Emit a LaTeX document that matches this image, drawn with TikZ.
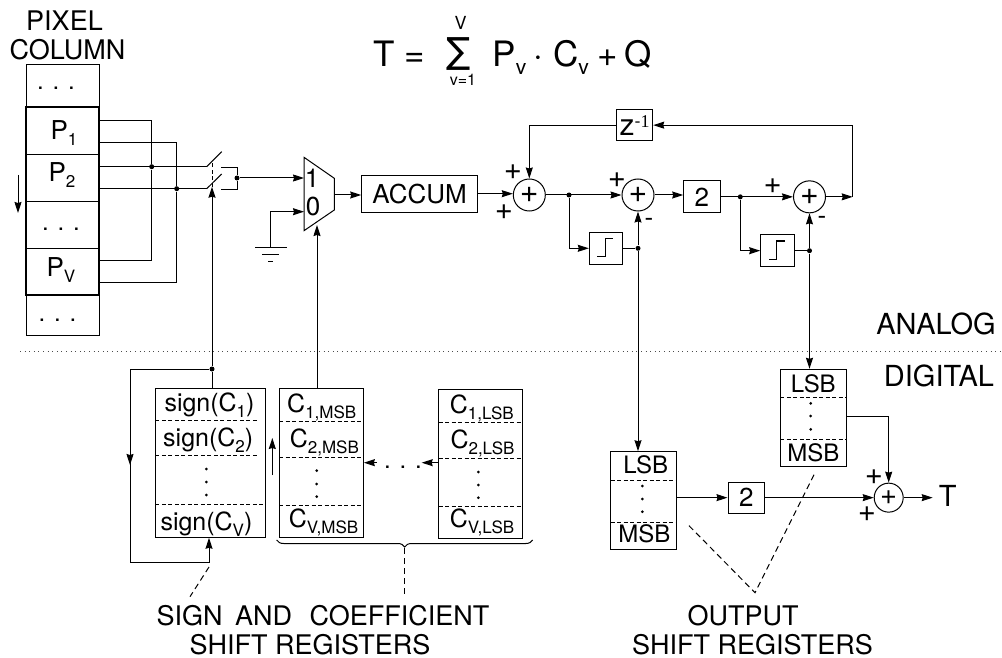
\documentclass[tikz,border=0pt]{standalone}
\usepackage{fontspec}
\setmainfont{TeX Gyre Heros}
\newfontfamily\serifdigit{Liberation Serif}
\newfontfamily\sumfont{DejaVu Sans}
\usetikzlibrary{arrows.meta}
\usetikzlibrary{decorations.pathreplacing}
\newcommand{\fs}[1]{\fontsize{#1}{#1}\selectfont}
\newcommand{\subs}[1]{\raisebox{-6pt}{\fs{17}#1}}

\begin{document}
\begin{tikzpicture}[x=1pt,y=-1pt,line width=1pt]

% used shapes
\tikzstyle{block} = [rectangle, draw, inner sep=0pt, font=\fs{26}]
\tikzstyle{sumnode} = [circle, draw, inner sep=0pt, minimum size=32pt, font=\fs{32}]
\tikzstyle{dot} = [circle, fill, inner sep=0pt, minimum size=5pt]
\tikzstyle{wire} = [-{Stealth[length=11pt,width=7pt,inset=1pt]}]
\tikzstyle{txt} = [anchor=base, inner sep=0pt, font=\fs{27}]
\tikzstyle{reg} = [anchor=base west, inner sep=0pt, font=\fs{25}]
\tikzstyle{bit} = [anchor=base, inner sep=0pt, font=\fs{24}]
\tikzstyle{sgn} = [anchor=center, inner sep=0pt, font=\fs{31}]
\tikzstyle{sep} = [dash pattern=on 4pt off 2.5pt]
\tikzstyle{note} = [dash pattern=on 6pt off 4pt]

\useasboundingbox (0,0) rectangle (1002,658);

% formula
\node [txt, anchor=base west, font=\fs{35}] (ftee) at (373,66.7) {T\hspace{10pt}=};
\node [txt, font=\fs{36}] (fsum) at (458.5,64) {\sumfont ∑};
\node [txt, font=\fs{18}] (ftop) at (460.7,29.5) {V};
\node [txt, font=\fs{16}] (fbot) at (463,86) {v=1};
\node [txt, anchor=base west, font=\fs{35}] (fpee) at (492,66.7) {P\raisebox{-8pt}{\fs{21}v}\hspace{7pt}·\hspace{10pt}C\raisebox{-8pt}{\fs{21}v}\hspace{9pt}+\hspace{6pt}Q};

% pixel column
\node [txt] (pixa) at (64.5,31) {PIXEL};
\node [txt] (pixb) at (67.5,60) {COLUMN};
\node [block, minimum width=73pt, minimum height=43pt] (celltop) at (62.5,85.8) {};
\node [block, minimum width=73pt, minimum height=40.7pt] (cellbot) at (62.5,315.3) {};
\node [block, minimum width=73pt, minimum height=47.3pt] (cellone) at (62.5,131) {};
\node [block, minimum width=73pt, minimum height=46.6pt] (celltwo) at (62.5,178) {};
\node [block, minimum width=73pt, minimum height=47.4pt] (celldots) at (62.5,225) {};
\node [block, minimum width=73pt, minimum height=46.3pt] (cellv) at (62.5,271.8) {};
\node [draw, line width=2pt, inner sep=0pt, minimum width=73pt, minimum height=187.7pt] (pixgroup) at (62.5,201.2) {};
\node [bit] (dota) at (56,90) {. . .};
\node [bit] (dotb) at (61,230) {. . .};
\node [bit] (dotc) at (57.5,321) {. . .};
\node [reg, font=\fs{26}] (pone) at (50,140) {P\subs{1}};
\node [reg, font=\fs{26}] (ptwo) at (48,181.7) {P\subs{2}};
\node [reg, font=\fs{26}] (pvee) at (46,276.7) {P\subs{V}};
\coordinate (shifta) at (18,175);
\coordinate (shiftb) at (18,213);
\draw [wire] (shifta) -- (shiftb);

% wires to the switches
\coordinate (outa) at (99,120.7);
\coordinate (outb) at (99,142.7);
\coordinate (outc) at (99,166.7);
\coordinate (outd) at (99,188.7);
\coordinate (oute) at (99,260);
\coordinate (outf) at (99,282.7);
\coordinate (swa) at (206.7,166.7);
\coordinate (swb) at (206.7,188.7);
\node [dot] (jone) at (151.7,166.7) {};
\node [dot] (jtwo) at (176.7,188.7) {};
\draw (outa) -| (jone);
\draw (jone) |- (oute);
\draw (outb) -| (jtwo);
\draw (jtwo) |- (outf);
\draw (outc) -- (swa);
\draw (outd) -- (swb);
\draw (swa) -- (221.7,151.7);
\draw (swb) -- (221.7,174);
\node [dot] (jthree) at (237,178) {};
\coordinate (cona) at (221,167.7);
\coordinate (conb) at (221,190);
\draw (cona) -| (jthree);
\draw (conb) -| (jthree);

% mux
\coordinate (muxone) at (304,178);
\coordinate (muxzero) at (304,211.7);
\coordinate (muxout) at (334.3,195);
\coordinate (muxsel) at (317,225);
\draw (304,157.3) -- (334.3,178.3) -- (334.3,210) -- (304,230.7) -- cycle;
\node [reg, anchor=base, font=\fs{26}] (muxa) at (312,188) {1};
\node [reg, anchor=base, font=\fs{26}] (muxb) at (313,215) {0};
\draw [wire] (jthree) -- (muxone);
\coordinate (gnd) at (270.7,247.7);
\draw [wire] (gnd) |- (muxzero);
\draw (255,247.7) -- (286.7,247.7);
\draw (262,254.3) -- (279,254.3);
\draw (268,261.7) -- (273,261.7);

% analog part
\node [block, minimum width=115.6pt, minimum height=37.3pt] (accum) at (419.5,193.7) {ACCUM};
\node [sumnode] (sumone) at (529.3,195) {+};
\node [sumnode] (sumtwo) at (638,195) {+};
\node [sumnode] (sumthree) at (809.5,196.85) {+};
\node [block, minimum width=36.3pt, minimum height=31.7pt] (twobox) at (701.85,196.85) {2};
\node [block, minimum width=36pt, minimum height=31.7pt, font=\fs{30}] (zbox) at (634.7,125.15) {z\raisebox{8pt}{\fs{18}-\serifdigit 1}};
\node [block, minimum width=33.4pt, minimum height=32pt] (stepone) at (606,248.3) {};
\node [block, minimum width=33.6pt, minimum height=32pt] (steptwo) at (777.5,250.7) {};
\draw [line width=1.2pt] (stepone) ++(-8.7,8.4) -- ++(8.4,0) -- ++(0,-18) -- ++(7.6,0);
\draw [line width=1.2pt] (steptwo) ++(-8.5,8.6) -- ++(7.7,0) -- ++(0,-18.3) -- ++(8.3,0);
\node [dot] (jfour) at (569,195) {};
\node [dot] (jfive) at (638,248.3) {};
\node [dot] (jsix) at (740.3,196.85) {};
\node [dot] (jseven) at (809.5,250.7) {};
\coordinate (corner) at (852.7,196.85);

\draw [wire] (muxout) -- (muxout -| accum.west);
\draw [wire] (accum.east) -- (accum.east -| sumone.west);
\draw [wire] (sumone) -- (sumtwo);
\draw [wire] (jfour) |- (stepone);
\draw (stepone) -- (jfive);
\draw [wire] (jfive) -- (sumtwo);
\draw [wire] (sumtwo) -- (sumtwo -| twobox.west);
\draw [wire] (twobox) -- (sumthree);
\draw [wire] (jsix) |- (steptwo);
\draw (steptwo) -- (jseven);
\draw [wire] (jseven) -- (sumthree);
\draw [wire] (sumthree) -- (corner);
\draw [wire] (corner) |- (zbox);
\draw [wire] (zbox) -| (sumone);

\node [sgn] (plusa) at (513,172) {+};
\node [sgn] (plusb) at (504,211.7) {+};
\node [sgn] (plusc) at (617,180) {+};
\node [sgn, font=\fs{26}] (minusa) at (649,222) {-};
\node [sgn] (plusd) at (772.7,186) {+};
\node [sgn, font=\fs{26}] (minusb) at (822,220) {-};

% analog and digital
\coordinate (linea) at (20,351.5);
\coordinate (lineb) at (1000,351.5);
\draw [dash pattern=on 1pt off 3.6pt, black!70] (linea) -- (lineb);
\node [txt, font=\fs{29}] (analog) at (936,334) {ANALOG};
\node [txt, font=\fs{29}] (digital) at (939,386) {DIGITAL};

% sign register
\node [block, minimum width=110pt, minimum height=149pt] (signreg) at (210.3,462.8) {};
\draw [sep] (155.3,420) -- (258,420);
\draw [sep] (155.3,455) -- (258,455);
\draw [sep] (155.3,504) -- (265.3,504);
\node [reg] (signa) at (164,411.7) {sign(C\subs{1})};
\node [reg] (signb) at (162.7,446.7) {sign(C\subs{2})};
\node [reg] (signc) at (160,530) {sign(C\subs{V})};
\foreach \y in {469,482,495}
  \fill (206.3,\y) circle (1.5);

% coefficient registers
\node [block, minimum width=84.3pt, minimum height=148.6pt] (msbreg) at (321.2,463) {};
\node [block, minimum width=84pt, minimum height=148.6pt] (lsbreg) at (480.7,464) {};
\draw [sep] (279,421.3) -- (363.3,421.3);
\draw [sep] (279,457) -- (363.3,457);
\draw [sep] (279,505.7) -- (363.3,505.7);
\draw [sep] (438.7,422.3) -- (522.7,422.3);
\draw [sep] (438.7,458) -- (522.7,458);
\draw [sep] (438.7,506.7) -- (522.7,506.7);
\node [reg] (ca) at (286.7,412.3) {C\subs{1,MSB}};
\node [reg] (cb) at (289.3,447.3) {C\subs{2,MSB}};
\node [reg] (cc) at (288.3,527.3) {C\subs{V,MSB}};
\node [reg] (cd) at (449.3,413.3) {C\subs{1,LSB}};
\node [reg] (ce) at (450,448.3) {C\subs{2,LSB}};
\node [reg] (cf) at (449.3,527.3) {C\subs{V,LSB}};
\foreach \y in {470.7,484,496.7}
  \fill (316.7,\y) circle (1.5);
\foreach \y in {472,485,497.7}
  \fill (478.3,\y) circle (1.5);
\node [bit] (dotd) at (403,468) {. . .};

% register connections
\node [dot] (jsign) at (212,369) {};
\coordinate (swctl) at (212,186.7);
\coordinate (swdash) at (212,163);
\coordinate (loopa) at (130,369);
\coordinate (loopb) at (130,465);
\coordinate (loopc) at (130,562.7);
\coordinate (loopd) at (209,562.7);
\draw [wire] (jsign) -- (swctl);
\draw [dash pattern=on 4pt off 2.5pt] (swctl) -- (swdash);
\draw (jsign) -- (jsign |- signreg.north);
\draw (jsign) -- (loopa) -- (loopc) -- (loopd);
\draw [wire] (loopa) -- (loopb);
\draw [wire] (loopd) -- (loopd |- signreg.south);
\draw [wire] (msbreg.north -| muxsel) -- (muxsel);
\coordinate (shiftc) at (272.3,475);
\coordinate (shiftd) at (272.3,438);
\draw [wire] (shiftc) -- (shiftd);
\coordinate (lefta) at (421.7,462.7);
\coordinate (leftb) at (376.7,462.7);
\draw [wire] (lefta -| lsbreg.west) -- (lefta);
\draw [wire] (leftb) -- (leftb -| msbreg.east);

% output registers
\node [block, minimum width=65.6pt, minimum height=97.3pt] (lsbone) at (643.5,500.35) {};
\node [block, minimum width=65.7pt, minimum height=97pt] (lsbtwo) at (813.15,417.8) {};
\draw [sep] (610.7,480) -- (676.3,480);
\draw [sep] (610.7,522) -- (676.3,522);
\draw [sep] (780.3,397.7) -- (846,397.7);
\draw [sep] (780.3,439.7) -- (846,439.7);
\node [bit] (lsba) at (645.7,473.3) {LSB};
\node [bit] (msba) at (644.3,542.7) {MSB};
\node [bit] (lsbb) at (813.3,392.7) {LSB};
\node [bit] (msbb) at (813.3,461) {MSB};
\foreach \y in {486,499,511.7}
  \fill (642.3,\y) circle (1.5);
\foreach \y in {403.3,416,429.3}
  \fill (810.7,\y) circle (1.5);
\node [block, minimum width=36.7pt, minimum height=31.3pt] (twoout) at (746.35,497.65) {2};
\node [sumnode, minimum size=29pt, font=\fs{29}] (sumout) at (888.7,497.65) {+};
\node [txt, font=\fs{29}] (tee) at (947.7,506.7) {T};
\coordinate (teearrow) at (932.7,497.65);
\coordinate (regout) at (846,416.7);
\draw [wire] (jfive) -- (jfive |- lsbone.north);
\draw [wire] (jseven) -- (jseven |- lsbtwo.north);
\draw [wire] (lsbone.east |- twoout) -- (twoout);
\draw [wire] (twoout) -- (sumout);
\draw [wire] (regout) -| (sumout);
\draw [wire] (sumout) -- (teearrow);
\node [sgn] (pluse) at (874,477) {+};
\node [sgn] (plusf) at (867,514) {+};

% register labels
\coordinate (bracea) at (276.7,540);
\coordinate (braceb) at (532.7,540);
\coordinate (bracetip) at (404,548);
\coordinate (braceend) at (404,595);
\draw [decorate, decoration={brace, mirror, amplitude=7pt}] (bracea) -- (braceb);
\draw [note] (bracetip) -- (braceend);
\coordinate (signa1) at (209,567);
\coordinate (signa2) at (190,596.7);
\draw [note] (signa1) -- (signa2);
\coordinate (outa1) at (689,525.7);
\coordinate (outa2) at (755,592.7);
\coordinate (outa3) at (815,472.7);
\draw [note] (outa1) -- (outa2) -- (outa3);
\node [txt] (laba) at (323,625) {SIGN\hspace{5pt} AND\hspace{5pt} \hspace{5pt}COEFFICIENT};
\node [txt] (labb) at (310,654) {SHIFT REGISTERS};
\node [txt] (labc) at (743,625) {OUTPUT};
\node [txt] (labd) at (752.5,654) {SHIFT REGISTERS};

\end{tikzpicture}
\end{document}
